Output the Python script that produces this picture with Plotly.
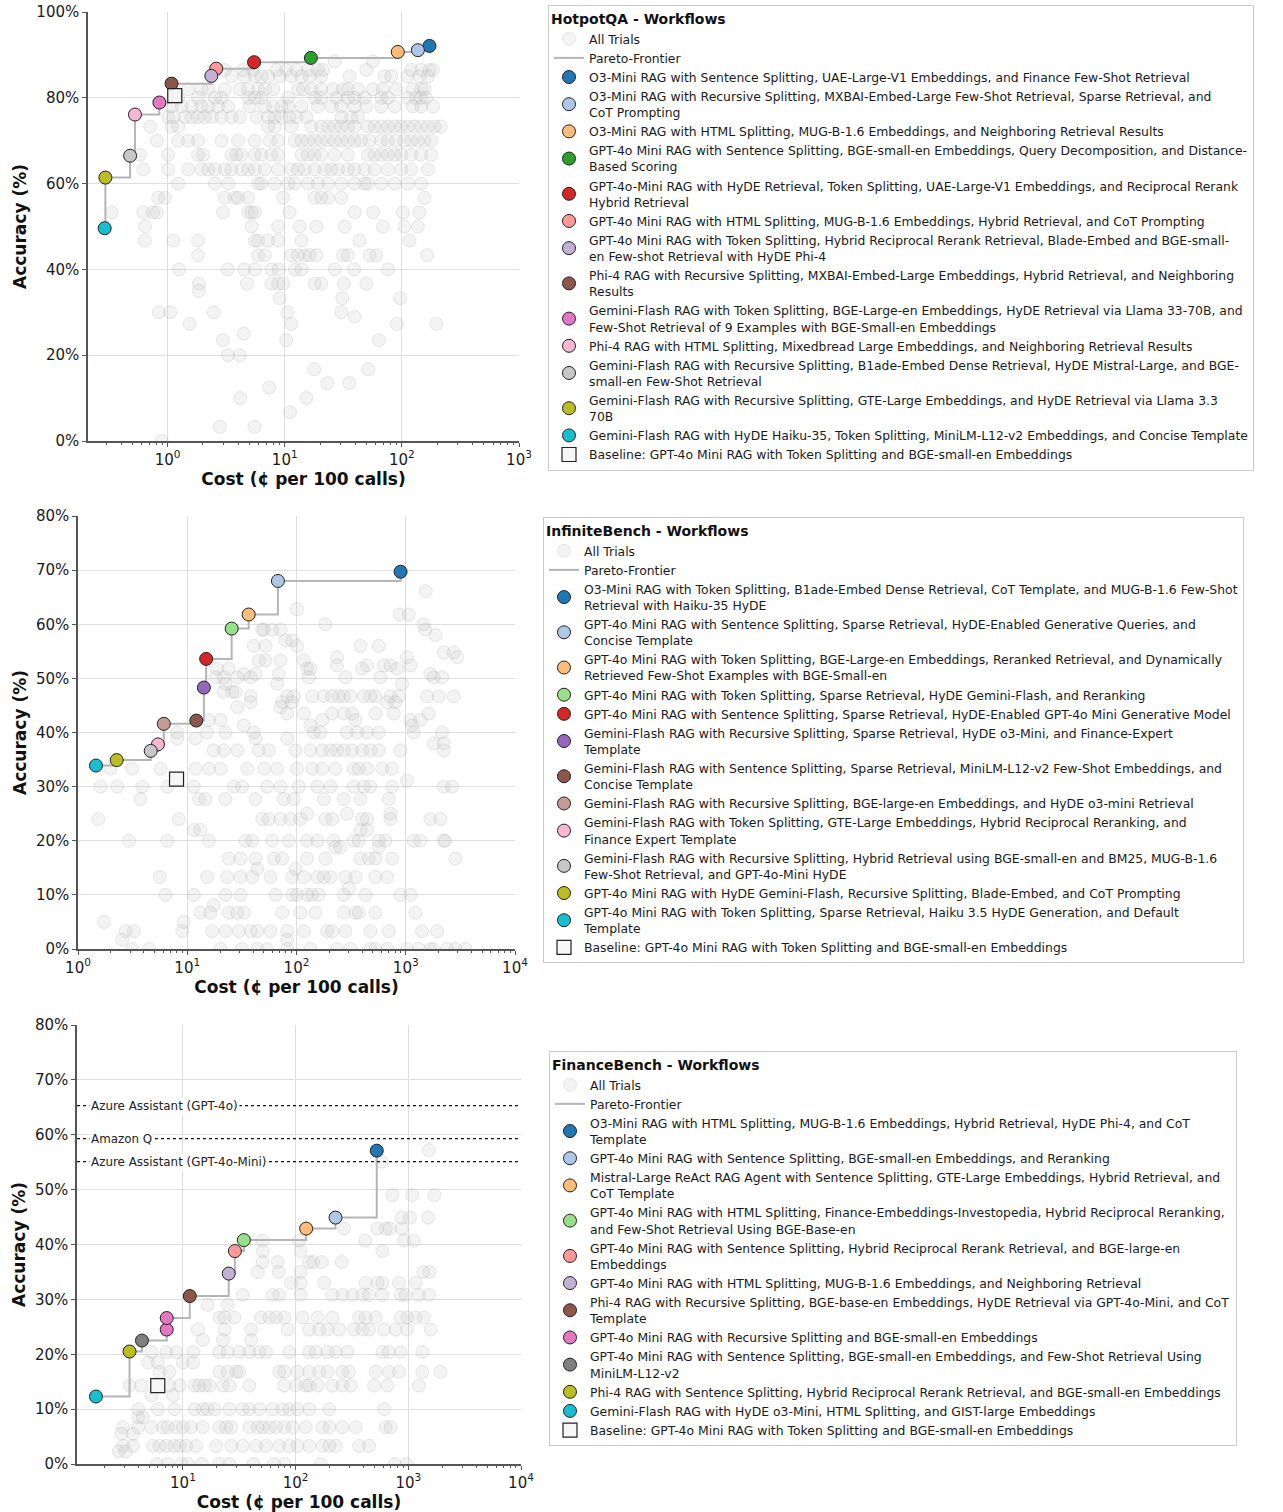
import plotly.graph_objects as go

FONT = "DejaVu Sans"

# ---------------- HotpotQA ----------------
hp_names = [
    "O3-Mini RAG with Sentence Splitting, UAE-Large-V1 Embeddings, and Finance Few-Shot Retrieval",
    "O3-Mini RAG with Recursive Splitting, MXBAI-Embed-Large Few-Shot Retrieval, Sparse Retrieval, and<br>CoT Prompting",
    "O3-Mini RAG with HTML Splitting, MUG-B-1.6 Embeddings, and Neighboring Retrieval Results",
    "GPT-4o Mini RAG with Sentence Splitting, BGE-small-en Embeddings, Query Decomposition, and Distance-<br>Based Scoring",
    "GPT-4o-Mini RAG with HyDE Retrieval, Token Splitting, UAE-Large-V1 Embeddings, and Reciprocal Rerank<br>Hybrid Retrieval",
    "GPT-4o Mini RAG with HTML Splitting, MUG-B-1.6 Embeddings, Hybrid Retrieval, and CoT Prompting",
    "GPT-4o Mini RAG with Token Splitting, Hybrid Reciprocal Rerank Retrieval, Blade-Embed and BGE-small-<br>en Few-shot Retrieval with HyDE Phi-4",
    "Phi-4 RAG with Recursive Splitting, MXBAI-Embed-Large Embeddings, Hybrid Retrieval, and Neighboring<br>Results",
    "Gemini-Flash RAG with Token Splitting, BGE-Large-en Embeddings, HyDE Retrieval via Llama 33-70B, and<br>Few-Shot Retrieval of 9 Examples with BGE-Small-en Embeddings",
    "Phi-4 RAG with HTML Splitting, Mixedbread Large Embeddings, and Neighboring Retrieval Results",
    "Gemini-Flash RAG with Recursive Splitting, B1ade-Embed Dense Retrieval, HyDE Mistral-Large, and BGE-<br>small-en Few-Shot Retrieval",
    "Gemini-Flash RAG with Recursive Splitting, GTE-Large Embeddings, and HyDE Retrieval via Llama 3.3<br>70B",
    "Gemini-Flash RAG with HyDE Haiku-35, Token Splitting, MiniLM-L12-v2 Embeddings, and Concise Template",
]
hp_cost = [[172], [137], [92.2], [16.7], [5.47], [2.6], [2.36], [1.08], [0.85], [0.526], [0.478], [0.294], [0.29]]
hp_acc = [[92.1], [91.1], [90.7], [89.3], [88.3], [86.8], [85.1], [83.3], [78.9], [76.1], [66.5], [61.4], [49.6]]
hp_colors = ["#1f77b4", "#aec7e8", "#ffbb78", "#2ca02c", "#d62728", "#ff9896", "#c5b0d5",
             "#8c564b", "#e377c2", "#f7b6d2", "#c7c7c7", "#bcbd22", "#17becf"]
hp_base_cost = [1.15]
hp_base_acc = [80.5]

hp_bg_acc = [88.5, 86.5, 85.0, 82.0, 80.0, 78.0, 75.5, 73.3, 70.0, 66.7, 63.3, 60.0, 56.7, 53.3,
             50.0, 46.7, 43.3, 40.0, 36.7, 35.0, 33.3, 30.0, 29.0, 27.3, 25.0, 23.5, 20.0, 16.7,
             13.5, 12.5, 10.0, 6.7, 3.3, 0.0]
hp_bg_cost = [
    [26.7, 56.6],
    [2.53, 3.08, 4.41, 5.37, 8.49, 10.3, 12.6, 15.8, 19.2, 21.2, 49.7, 120, 146, 172, 184],
    [3.51, 4.56, 5.55, 6.32, 7.21, 9.07, 11.4, 13.9, 16.3, 20.5, 35.8, 71.2, 81.1, 112, 141, 167],
    [1.5, 1.95, 2.22, 3.08, 4.13, 4.87, 5.93, 6.76, 7.96, 13.0, 14.3, 16.9, 20.5, 25.8, 31.4, 34.6, 42.2, 56.6, 68.9, 89.5, 124, 146, 156],
    [1.23, 1.82, 2.53, 2.88, 4.87, 5.55, 6.32, 10.7, 18.0, 20.5, 27.6, 34.6, 39.5, 48.0, 66.7, 76.0, 112, 132, 146, 161],
    [1.08, 1.32, 1.6, 1.95, 2.22, 2.7, 3.29, 5.03, 6.76, 7.96, 9.37, 10.7, 13.9, 19.2, 25.0, 30.4, 39.5, 49.7, 66.7, 86.7, 124, 146, 184],
    [1.01, 1.12, 1.41, 1.6, 1.82, 2.08, 2.37, 2.88, 3.51, 4.13, 5.74, 7.21, 8.22, 9.37, 11.0, 12.6, 15.3, 30.4, 37.0, 42.2],
    [0.71, 1.08, 1.23, 7.21, 8.22, 11.4, 16.9, 20.5, 23.4, 26.7, 30.4, 34.6, 39.5, 51.3, 58.5, 66.7, 76.0, 86.7, 98.7, 112, 128, 146, 167, 190, 215],
    [0.81, 1.23, 1.5, 1.82, 2.88, 4.0, 5.55, 7.45, 8.77, 12.2, 13.9, 15.8, 18.0, 20.5, 23.4, 26.7, 30.4, 34.6, 39.5, 45.0, 53.0, 66.7, 76.0, 89.5, 105, 120, 137, 156, 178],
    [0.58, 1.01, 1.82, 2.01, 3.51, 3.87, 4.27, 5.55, 6.32, 7.7, 8.77, 13.9, 15.8, 18.0, 20.5, 26.7, 34.6, 51.3, 58.5, 66.7, 76.0, 86.7, 98.7, 120, 146, 178],
    [0.62, 1.01, 1.5, 1.95, 2.22, 2.53, 3.08, 3.51, 4.27, 4.87, 5.55, 6.76, 8.77, 11.4, 13.0, 14.8, 18.0, 21.9, 25.0, 28.5, 34.6, 39.5, 48.0, 58.5, 76.0, 98.7, 120, 167],
    [1.23, 2.53, 3.29, 5.93, 6.32, 8.22, 10.7, 12.2, 15.8, 19.2, 23.4, 30.4, 39.5, 48.0, 51.3, 66.7, 86.7, 112, 146],
    [0.83, 0.95, 3.08, 3.75, 4.0, 4.87, 9.68, 18.0, 20.5, 23.4, 30.4, 156],
    [0.333, 0.62, 0.75, 0.81, 2.98, 4.87, 5.2, 5.55, 11.0, 39.5, 56.6, 102, 141],
    [0.64, 5.2, 8.77, 13.4, 18.6, 32.5, 68.9, 105, 137],
    [0.64, 1.12, 1.82, 5.55, 5.93, 7.21, 8.77, 13.9, 43.6, 116],
    [1.82, 5.93, 6.76, 11.4, 13.0, 14.8, 16.3, 18.6, 31.4, 34.6, 53.0, 60.4, 164],
    [1.25, 3.25, 4.5, 5.55, 7.7, 8.89, 12.2, 13.9, 26.7, 39.0, 76.0],
    [1.85, 4.74, 7.7, 8.77, 9.68, 18.0, 20.5, 32.0, 49.7],
    [1.85],
    [9.07, 31.0, 96.8],
    [0.84, 1.05, 2.48, 10.5, 30.4],
    [39.5],
    [1.54, 11.4, 90.6, 197],
    [4.47],
    [2.96, 10.3, 63.7],
    [3.27, 4.13],
    [17.8, 51.6],
    [23.1, 35.6],
    [7.35],
    [4.16, 15.3],
    [11.1],
    [2.79, 5.51],
    [0.89],
]

# ---------------- InfiniteBench ----------------
ib_names = [
    "O3-Mini RAG with Token Splitting, B1ade-Embed Dense Retrieval, CoT Template, and MUG-B-1.6 Few-Shot<br>Retrieval with Haiku-35 HyDE",
    "GPT-4o Mini RAG with Sentence Splitting, Sparse Retrieval, HyDE-Enabled Generative Queries, and<br>Concise Template",
    "GPT-4o Mini RAG with Token Splitting, BGE-Large-en Embeddings, Reranked Retrieval, and Dynamically<br>Retrieved Few-Shot Examples with BGE-Small-en",
    "GPT-4o Mini RAG with Token Splitting, Sparse Retrieval, HyDE Gemini-Flash, and Reranking",
    "GPT-4o Mini RAG with Sentence Splitting, Sparse Retrieval, HyDE-Enabled GPT-4o Mini Generative Model",
    "Gemini-Flash RAG with Recursive Splitting, Sparse Retrieval, HyDE o3-Mini, and Finance-Expert<br>Template",
    "Gemini-Flash RAG with Sentence Splitting, Sparse Retrieval, MiniLM-L12-v2 Few-Shot Embeddings, and<br>Concise Template",
    "Gemini-Flash RAG with Recursive Splitting, BGE-large-en Embeddings, and HyDE o3-mini Retrieval",
    "Gemini-Flash RAG with Token Splitting, GTE-Large Embeddings, Hybrid Reciprocal Reranking, and<br>Finance Expert Template",
    "Gemini-Flash RAG with Recursive Splitting, Hybrid Retrieval using BGE-small-en and BM25, MUG-B-1.6<br>Few-Shot Retrieval, and GPT-4o-Mini HyDE",
    "GPT-4o Mini RAG with HyDE Gemini-Flash, Recursive Splitting, Blade-Embed, and CoT Prompting",
    "GPT-4o Mini RAG with Token Splitting, Sparse Retrieval, Haiku 3.5 HyDE Generation, and Default<br>Template",
]
ib_cost = [[897], [67.6], [36.5], [25.5], [14.9], [14.2], [12.1], [6.1], [5.39], [4.63], [2.26], [1.46]]
ib_acc = [[69.7], [68.0], [61.8], [59.2], [53.6], [48.3], [42.2], [41.6], [37.8], [36.6], [34.9], [33.9]]
ib_colors = ["#1f77b4", "#aec7e8", "#ffbb78", "#98df8a", "#d62728", "#9467bd", "#8c564b",
             "#c49c94", "#f7b6d2", "#c7c7c7", "#bcbd22", "#17becf"]
ib_base_cost = [7.98]
ib_base_acc = [31.4]

ib_bg_acc = [66.1, 62.8, 61.8, 60.0, 59.0, 58.0, 57.0, 56.0, 54.8, 53.9, 53.3, 52.4, 51.8, 50.8,
             50.2, 49.0, 47.5, 46.7, 45.6, 44.7, 43.5, 42.3, 41.3, 40.0, 38.9, 38.0, 36.7, 33.3,
             31.1, 30.0, 27.7, 25.0, 24.0, 22.0, 20.0, 18.8, 16.7, 14.8, 13.3, 11.2, 10.0, 8.1,
             6.7, 5.0, 3.3, 1.7, 0.0]
ib_bg_cost = [
    [1523],
    [101],
    [881, 1065],
    [184, 1462],
    [48.5, 50.3, 59.9, 71.4, 1514],
    [1868],
    [79.3, 91.2],
    [40.7, 52, 101, 385, 566],
    [2225, 2748],
    [235, 1028, 2950],
    [45.2, 52, 71.4, 117],
    [235, 443, 629, 724, 1104],
    [18.8, 24, 125, 134, 399, 833],
    [33, 42.2, 68.9, 1681],
    [18.2, 21.6, 28.7, 38, 130, 281, 586, 1803, 2150],
    [22.4, 66.5, 926],
    [21.6, 25.8, 27.7],
    [38, 82.2, 94.6, 139, 178, 212, 244, 271, 312, 413, 475, 528, 724, 863, 1567, 2005, 2748],
    [38, 74, 91.2, 675, 804],
    [28.7, 71.4],
    [82.2, 117, 212, 271, 323, 528, 777, 1623],
    [15.8, 20.2, 172, 347, 1104, 1361],
    [33, 134, 1142],
    [8.1, 15.2, 22.4, 40.7, 144, 166, 290, 359, 443, 566, 1184, 2150],
    [8.1, 11.9, 42.2, 82.2],
    [1803, 2225],
    [17.5, 21.6, 28.7, 45.2, 55.8, 98, 134, 172, 205, 235, 271, 323, 399, 475, 566, 893, 2225],
    [1.99, 3.14, 5.7, 11.9, 15.8, 20.2, 35.4, 50.3, 66.5, 101, 139, 172, 227, 334, 372, 443, 608, 750],
    [1028],
    [1.61, 2.29, 3.88, 6.56, 11.5, 26.7, 31.8, 53.9, 71.4, 105, 155, 205, 334, 413, 475, 750, 2226, 2654],
    [3.74, 12.8, 14.7, 22.4, 42.2, 76.6, 94.6, 178, 271, 385, 700],
    [125, 290, 724],
    [1.53, 8.4, 48.5, 55.8, 71.4, 88.1, 109, 184, 212, 399, 443, 724, 1681, 2075],
    [11.5, 13.2, 385, 443],
    [2.93, 6.56, 15.8, 34.2, 39.3, 59.9, 85.1, 125, 155, 219, 334, 372, 566, 652, 1184, 1361, 2226, 2305],
    [227, 253, 566],
    [24, 30.7, 42.2, 62.1, 74, 125, 184, 385, 459, 528, 750, 2846],
    [43.7, 98],
    [5.62, 15.2, 23.2, 30.7, 39.3, 57.8, 91.2, 117, 155, 178, 205, 281, 347, 528, 675],
    [301],
    [6.34, 11.5, 22.4, 30.7, 64.3, 91.2, 101, 125, 139, 160, 271, 428, 893, 1104],
    [17.5],
    [13.2, 16.3, 24, 28.7, 33, 74, 109, 149, 271, 347, 372, 528, 1225],
    [1.73, 9.3],
    [2.73, 3.25, 9.0, 16.9, 22.4, 29.7, 38, 43.7, 57.8, 82.2, 117, 191, 212, 281, 475, 700, 1410, 1936],
    [2.54, 82.2],
    [3.14, 4.46, 20.2, 31.8, 43.7, 53.9, 82.2, 134, 235, 312, 475, 528, 675, 1028, 1315, 1681, 1803, 2388, 2846, 3515],
]

# ---------------- FinanceBench ----------------
fb_names = [
    "O3-Mini RAG with HTML Splitting, MUG-B-1.6 Embeddings, Hybrid Retrieval, HyDE Phi-4, and CoT<br>Template",
    "GPT-4o Mini RAG with Sentence Splitting, BGE-small-en Embeddings, and Reranking",
    "Mistral-Large ReAct RAG Agent with Sentence Splitting, GTE-Large Embeddings, Hybrid Retrieval, and<br>CoT Template",
    "GPT-4o Mini RAG with HTML Splitting, Finance-Embeddings-Investopedia, Hybrid Reciprocal Reranking,<br>and Few-Shot Retrieval Using BGE-Base-en",
    "GPT-4o Mini RAG with Sentence Splitting, Hybrid Reciprocal Rerank Retrieval, and BGE-large-en<br>Embeddings",
    "GPT-4o Mini RAG with HTML Splitting, MUG-B-1.6 Embeddings, and Neighboring Retrieval",
    "Phi-4 RAG with Recursive Splitting, BGE-base-en Embeddings, HyDE Retrieval via GPT-4o-Mini, and CoT<br>Template",
    "GPT-4o Mini RAG with Recursive Splitting and BGE-small-en Embeddings",
    "GPT-4o Mini RAG with Sentence Splitting, BGE-small-en Embeddings, and Few-Shot Retrieval Using<br>MiniLM-L12-v2",
    "Phi-4 RAG with Sentence Splitting, Hybrid Reciprocal Rerank Retrieval, and BGE-small-en Embeddings",
    "Gemini-Flash RAG with HyDE o3-Mini, HTML Splitting, and GIST-large Embeddings",
]
fb_cost = [[525], [226], [124], [34.7], [28.9], [25.5], [11.5], [7.18, 7.18], [4.33], [3.36], [1.69]]
fb_acc = [[57.1], [44.9], [42.9], [40.8], [38.8], [34.7], [30.6], [24.5, 26.6], [22.5], [20.5], [12.3]]
fb_colors = ["#1f77b4", "#aec7e8", "#ffbb78", "#98df8a", "#ff9896", "#c5b0d5", "#8c564b",
             "#e377c2", "#7f7f7f", "#bcbd22", "#17becf"]
fb_base_cost = [5.98]
fb_base_acc = [14.3]

fb_ref_names = ["Azure Assistant (GPT-4o)", "Amazon Q", "Azure Assistant (GPT-4o-Mini)"]
fb_ref_acc = [65.3, 59.3, 55.1]

fb_bg_acc = [57.2, 55.1, 49.0, 44.9, 42.9, 40.7, 38.8, 36.8, 35.0, 33.0, 30.8, 29.0, 26.7, 24.5,
             22.6, 20.4, 18.5, 16.8, 14.3, 12.5, 10.0, 8.5, 6.7, 5.5, 3.3, 2.3, 0.0]
fb_bg_cost = [
    [1524],
    [581],
    [721, 1084, 1710],
    [873, 1035, 1503],
    [270, 532, 631, 684, 873],
    [51, 108, 414, 916, 1122],
    [51, 111, 589],
    [51, 69.3, 132, 143, 171, 257],
    [46.1, 70.8, 111, 1358, 1545],
    [91, 111, 179, 419, 532, 589, 826, 1161],
    [34, 62.5, 71.6, 111, 212, 260, 319, 392, 449, 589, 855, 946, 1242, 1524],
    [16.6, 25],
    [21.1, 23.4, 28.7, 49.3, 58.5, 67, 79.4, 115, 157, 212, 366, 419, 514, 855, 979, 1161, 1377],
    [13.6, 23.4, 40.3, 84.9, 132, 162, 192, 243, 330, 392, 449, 609, 773, 979, 1578],
    [15, 22.6, 40.3],
    [5.25, 7.13, 8.73, 12.3, 21.1, 25, 31.7, 38.9, 47.7, 54.6, 87.9, 132, 151, 192, 227, 288, 589, 675, 855, 1330],
    [4.9, 6.0, 10, 12.3],
    [6.2, 7.6, 21.1, 25, 29.7, 31.7, 71.6, 79.4, 104, 132, 162, 192, 260, 298, 514, 675, 826, 1330, 1932],
    [3.37, 4.27, 7.6, 9.35, 12.7, 14, 15.6, 17.2, 22.6, 25.9, 38.9, 79.4, 101, 123, 132, 157, 212, 260, 309, 497, 652, 1242],
    [5.25, 8.2],
    [4.0, 6.0, 8.4, 12.7, 15, 16.6, 19.1, 25.9, 34, 38.9, 47.7, 62.5, 76.7, 87.9, 104, 132, 199, 609],
    [4.0, 4.4],
    [2.94, 4.0, 5.25, 6.65, 7.36, 8.73, 10, 11.8, 15, 21.1, 24.2, 26.8, 38.9, 46.1, 51, 58.5, 67, 79.4, 94, 123, 173, 199, 260, 342, 630, 698],
    [2.85, 3.6],
    [2.94, 3.61, 5.43, 6.2, 7.13, 8.4, 9.35, 10.7, 13.1, 19.7, 26.8, 34, 44.6, 54.6, 71.6, 87.9, 104, 132, 173, 199, 227, 366, 449],
    [2.7, 3.1],
    [5.9, 7.3, 9.7, 11.1, 14.7, 21, 25.8, 42.3, 64.5, 79.7, 167, 757, 968],
]

baseline_name = "Baseline: GPT-4o Mini RAG with Token Splitting and BGE-small-en Embeddings"

fig = go.Figure()


def add_panel(idx, bg_acc, bg_cost, names, costs, accs, colors, base_cost, base_acc):
    xa = "x" if idx == 1 else f"x{idx}"
    ya = "y" if idx == 1 else f"y{idx}"
    lg = "legend" if idx == 1 else f"legend{idx}"
    bx, by = [], []
    for a, cs in zip(bg_acc, bg_cost):
        for c in cs:
            bx.append(c)
            by.append(a)
    fig.add_trace(go.Scatter(
        x=bx, y=by, mode="markers", name="All Trials", xaxis=xa, yaxis=ya, legend=lg,
        marker=dict(size=13, color="rgba(200,200,200,0.22)",
                    line=dict(color="rgba(150,150,150,0.2)", width=1)),
        hoverinfo="skip"))
    pts = sorted((c, a) for cs, as_ in zip(costs, accs) for c, a in zip(cs, as_))
    fig.add_trace(go.Scatter(
        x=[p[0] for p in pts], y=[p[1] for p in pts], mode="lines", name="Pareto-Frontier",
        xaxis=xa, yaxis=ya, legend=lg,
        line=dict(shape="hv", color="#b5b5b5", width=2)))
    for name, cs, as_, col in zip(names, costs, accs, colors):
        fig.add_trace(go.Scatter(
            x=cs, y=as_, mode="markers", name=name, xaxis=xa, yaxis=ya, legend=lg,
            marker=dict(size=13, color=col, line=dict(color="#222222", width=1))))
    fig.add_trace(go.Scatter(
        x=base_cost, y=base_acc, mode="markers", name=baseline_name, xaxis=xa, yaxis=ya, legend=lg,
        marker=dict(symbol="square", size=14, color="rgba(245,245,245,0.9)",
                    line=dict(color="#222222", width=1.2))))


add_panel(1, hp_bg_acc, hp_bg_cost, hp_names, hp_cost, hp_acc, hp_colors, hp_base_cost, hp_base_acc)
add_panel(2, ib_bg_acc, ib_bg_cost, ib_names, ib_cost, ib_acc, ib_colors, ib_base_cost, ib_base_acc)
add_panel(3, fb_bg_acc, fb_bg_cost, fb_names, fb_cost, fb_acc, fb_colors, fb_base_cost, fb_base_acc)

# reference lines (FinanceBench)
for nm, a in zip(fb_ref_names, fb_ref_acc):
    fig.add_shape(type="line", xref="x3 domain", yref="y3", x0=0, x1=1, y0=a, y1=a,
                  line=dict(color="#111111", width=1.2, dash="dot"))
    fig.add_annotation(xref="x3 domain", yref="y3", x=0.028, y=a, text=nm, showarrow=False,
                       xanchor="left", yanchor="middle", bgcolor="white", borderpad=1,
                       font=dict(size=11.9, color="#222222"))

W, H = 1283, 1512
minor_vals = [m * 10 ** e for e in range(-1, 4) for m in range(2, 10)]
tick_vals = [0.1, 1, 10, 100, 1000, 10000]
tick_text = ["10<sup>-1</sup>", "10<sup>0</sup>", "10<sup>1</sup>", "10<sup>2</sup>", "10<sup>3</sup>", "10<sup>4</sup>"]


def px_x(v):
    return v / W


def px_y(v):
    return 1 - v / H


def xax(x0, x1, rng, anchor):
    return dict(domain=[px_x(x0), px_x(x1)], type="log", range=rng, anchor=anchor, automargin=False,
                tickmode="array", tickvals=tick_vals, ticktext=tick_text, ticklabeloverflow="allow",
                showgrid=True, gridcolor="#dedede", gridwidth=1,
                showline=True, linecolor="#555555", linewidth=1.5, mirror=False,
                ticks="outside", ticklen=4, tickcolor="#555555",
                minor=dict(ticks="outside", ticklen=2, tickcolor="#555555", tickvals=minor_vals, showgrid=False),
                tickfont=dict(size=15, color="#1a1a1a"), zeroline=False,
                title=dict(text="<b>Cost (¢ per 100 calls)</b>", font=dict(size=17, color="#111111"), standoff=4))


def yax(y0, y1, top, dt, anchor):
    vals = list(range(0, top + 1, dt))
    return dict(domain=[px_y(y1), px_y(y0)], range=[0, top], anchor=anchor, automargin=False,
                tickmode="array", tickvals=vals, ticktext=[f"{v}%" for v in vals], ticklabeloverflow="allow",
                showgrid=True, gridcolor="#dedede", gridwidth=1,
                showline=True, linecolor="#555555", linewidth=1.5, mirror=False,
                ticks="outside", ticklen=4, tickcolor="#555555",
                tickfont=dict(size=15, color="#1a1a1a"), zeroline=False,
                title=dict(text="<b>Accuracy (%)</b>", font=dict(size=17, color="#111111"), standoff=5))


def leg(x, y, title):
    return dict(x=px_x(x), y=px_y(y), xanchor="left", yanchor="top",
                title=dict(text=f"<b>{title}</b>", font=dict(size=14, color="#111111")),
                font=dict(size=12.4, color="#1a1a1a", family=FONT),
                bgcolor="white", bordercolor="#cccccc", borderwidth=1,
                tracegroupgap=0, traceorder="normal")


fig.update_layout(
    template="none",
    width=W, height=H,
    margin=dict(l=0, r=0, t=0, b=0, pad=0, autoexpand=False),
    paper_bgcolor="white", plot_bgcolor="white",
    font=dict(family=FONT, color="#1a1a1a"),
    showlegend=True,
    xaxis=xax(88, 519, [-0.68, 3], "y"),
    yaxis=yax(12, 441, 100, 20, "x"),
    xaxis2=xax(78, 515, [0, 4], "y2"),
    yaxis2=yax(516, 949, 80, 10, "x2"),
    xaxis3=xax(77, 521, [0.06, 4], "y3"),
    yaxis3=yax(1025, 1464, 80, 10, "x3"),
    legend=leg(548, 5, "HotpotQA - Workflows"),
    legend2=leg(543, 517, "InfiniteBench - Workflows"),
    legend3=leg(549, 1051, "FinanceBench - Workflows"),
)

# remove the browser's default body margin so the figure sits at the window's top-left corner
fig.write_html("out.html", config={"displayModeBar": False},
               post_script="document.body.style.margin='0';")
